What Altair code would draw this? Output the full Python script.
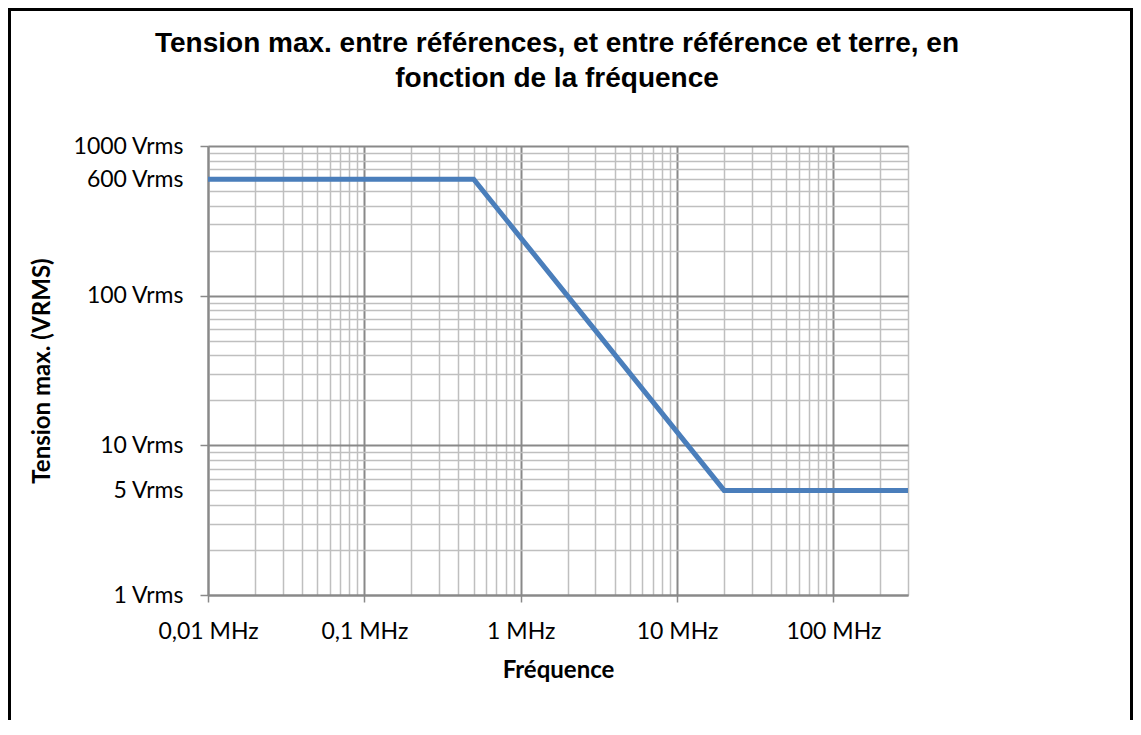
import altair as alt
import pandas as pd

# ---- data ----
freq_mhz = [0.01, 0.5, 20, 300]
tension_vrms = [600, 600, 5, 5]

x_major_values = [0.01, 0.1, 1, 10, 100]
x_major_labels = ["0,01 MHz", "0,1 MHz", "1 MHz", "10 MHz", "100 MHz"]
y_major_values = [1, 10, 100, 1000]
y_major_labels = ["1 Vrms", "10 Vrms", "100 Vrms", "1000 Vrms"]
y_extra_values = [5, 600]
y_extra_labels = ["5 Vrms", "600 Vrms"]
x_decades = [0.01, 0.1, 1, 10, 100]
y_decades = [1, 10, 100]
x_minor_values = [round(m * d, 6) for d in x_decades for m in range(2, 10) if m * d <= 300]
y_minor_values = [m * d for d in y_decades for m in range(2, 10)]

title_lines = ["Tension max. entre références, et entre référence et terre, en",
               "fonction de la fréquence"]
x_title = "Fréquence"
y_title = "Tension max. (VRMS)"

df = pd.DataFrame({"f": freq_mhz, "v": tension_vrms})

MINOR = "#bfbfbf"
MAJOR = "#898989"
LINE = "#4a7ebb"
FONT = "Lato"


def label_expr(values, labels):
    expr = "''"
    for v, l in reversed(list(zip(values, labels))):
        expr = f"datum.value == {v} ? '{l}' : ({expr})"
    return expr


x_scale = alt.Scale(type="log", domain=[0.01, 300], nice=False)
y_scale = alt.Scale(type="log", domain=[1, 1000], nice=False)

base = alt.Chart(df)

minor = base.mark_line(opacity=0).encode(
    x=alt.X("f:Q", scale=x_scale, axis=alt.Axis(
        orient="bottom", values=x_minor_values, grid=True, gridColor=MINOR, gridWidth=1.5,
        labels=False, ticks=False, domain=False, title=None)),
    y=alt.Y("v:Q", scale=y_scale, axis=alt.Axis(
        orient="left", values=y_minor_values, grid=True, gridColor=MINOR, gridWidth=1.5,
        labels=False, ticks=False, domain=False, title=None)),
)

major = base.mark_line(opacity=0).encode(
    x=alt.X("f:Q", scale=x_scale, axis=alt.Axis(
        orient="bottom", values=x_major_values, grid=True, gridColor=MAJOR, gridWidth=2,
        ticks=True, tickSize=7, tickColor=MAJOR, tickWidth=1.5,
        domain=True, domainColor=MAJOR, domainWidth=2,
        labelExpr=label_expr(x_major_values, x_major_labels),
        labelFont=FONT, labelFontSize=23, labelColor="black", labelPadding=18,
        labelFlush=False, labelOverlap=False,
        title=x_title, titleFont=FONT, titleFontSize=24, titleFontWeight="bold",
        titleColor="black", titlePadding=15)),
    y=alt.Y("v:Q", scale=y_scale, axis=alt.Axis(
        orient="left", values=y_major_values, grid=True, gridColor=MAJOR, gridWidth=2,
        ticks=True, tickSize=8, tickColor=MAJOR, tickWidth=1.5,
        domain=True, domainColor=MAJOR, domainWidth=2,
        labelExpr=label_expr(y_major_values, y_major_labels),
        labelFont=FONT, labelFontSize=23, labelColor="black", labelPadding=17,
        labelFlush=False, labelOverlap=False,
        title=y_title, titleFont=FONT, titleFontSize=24, titleFontWeight="bold",
        titleColor="black", titlePadding=18)),
)

extra = base.mark_line(opacity=0).encode(
    x=alt.X("f:Q", scale=x_scale, axis=None),
    y=alt.Y("v:Q", scale=y_scale, axis=alt.Axis(
        orient="left", values=y_extra_values, grid=False, ticks=False, domain=False,
        labelExpr=label_expr(y_extra_values, y_extra_labels),
        labelFont=FONT, labelFontSize=23, labelColor="black", labelPadding=25,
        labelFlush=False, labelOverlap=False, title=None)),
)

line = base.mark_line(color=LINE, strokeWidth=5, strokeCap="butt", strokeJoin="miter").encode(
    x=alt.X("f:Q", scale=x_scale, axis=None),
    y=alt.Y("v:Q", scale=y_scale, axis=None),
)

one = pd.DataFrame({"k": [0]})
title = alt.Chart(one).mark_text(
    text=title_lines, font="Liberation Sans", fontSize=28, fontWeight="bold",
    color="black", align="center", baseline="alphabetic", lineHeight=35,
).encode(x=alt.value(349), y=alt.value(-94))

border = alt.Chart(one).mark_rect(
    fillOpacity=0, stroke="black", strokeWidth=3,
).encode(x=alt.value(-198.5), x2=alt.value(923.5), y=alt.value(-136.5), y2=alt.value(660))

chart = alt.layer(minor, major, extra, line, title, border).resolve_axis(
    x="independent", y="independent"
).properties(
    width=700, height=449,
    autosize=alt.AutoSizeParams(type="none"),
    padding={"left": 200, "top": 138, "right": 225, "bottom": 125},
    background="white",
).configure_view(strokeWidth=0)

chart.save("out.html", embed_options={"renderer": "svg", "actions": False})
